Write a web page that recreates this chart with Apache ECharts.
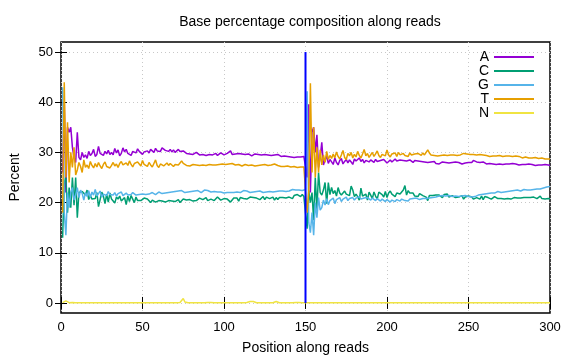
<!DOCTYPE html>
<html>
<head>
<meta charset="utf-8">
<script src="https://cdn.jsdelivr.net/npm/echarts@6/dist/echarts.min.js"></script>
<style>html,body{margin:0;padding:0;background:#fff;}#c{width:576px;height:360px;}</style>
</head>
<body>
<div id="c"></div>
<script>
const title = "Base percentage composition along reads";
const xName = "Position along reads";
const yName = "Percent";
const seriesNames = ["A", "C", "G", "T", "N"];
const xTicks = [0, 50, 100, 150, 200, 250, 300];
const yTicks = [0, 10, 20, 30, 40, 50];
const readBoundary = 150;

const A_read1 = [
26,40,22,35,34,35,31,29,28,34,29,28.5,30,29,29.5,
28.8,30.2,29.4,29.8,30.6,29.2,29.6,31.2,29.8,30.0,29.4,30.2,29.7,30.4,29.6,
30.0,29.5,30.8,29.9,30.5,29.3,29.8,30.9,30.1,30.6,29.8,30.0,29.4,30.2,30.5,
29.9,30.7,30.2,30.4,29.6,30.1,29.8,30.3,29.9,30.6,30.4,30.0,30.8,30.3,30.5,
30.2,30.9,31.0,30.4,30.7,30.2,30.6,30.1,30.5,30.0,30.3,30.6,30.2,29.9,30.3,
30.0,29.8,30.1,29.7,29.9,29.6,29.8,30.0,29.7,29.5,29.8,29.6,29.9,29.4,29.7,
29.6,29.8,29.5,29.7,29.8,29.4,29.6,29.9,29.7,29.5,29.6,29.8,29.7,30.3,29.6,
29.5,29.7,29.6,29.8,29.5,29.7,29.4,29.6,29.5,29.7,29.6,29.3,29.5,29.7,29.4,
29.6,29.8,29.5,29.4,29.6,29.3,29.5,29.7,29.4,29.2,29.5,29.3,29.6,29.4,29.2,
29.4,29.3,29.5,29.2,29.4,29.1,29.3,29.0,29.2,29.1,28.9,29.1,29.0,29.2,29.0];
const A_read2 = [
25,39.6,22,34,35,30,33.5,27,29,32,27.5,28.5,29.2,27.8,28.6,
28.1,27.6,28.9,28.0,27.5,28.4,28.8,27.7,28.2,28.6,27.9,28.5,28.1,27.6,28.7,
28.3,28.0,28.9,28.2,28.6,27.9,28.4,28.7,28.1,28.5,28.3,28.0,28.6,28.2,27.9,
28.4,28.1,28.6,28.3,27.9,28.2,28.5,28.1,28.4,28.7,28.3,28.0,28.5,28.2,28.4,
28.6,28.3,28.1,28.5,28.2,28.0,28.4,28.1,28.3,28.0,28.2,27.9,28.1,28.3,28.0,
27.8,28.1,27.9,28.2,27.8,28.0,27.7,27.9,28.1,27.8,28.0,27.7,27.9,27.8,28.0,
27.9,28.1,27.8,28.0,27.9,27.7,28.0,27.9,28.1,28.0,27.8,28.0,28.4,28.7,28.1,
27.9,28.0,27.8,28.1,27.9,27.7,27.9,27.8,28.0,27.7,27.9,27.6,27.8,27.7,27.9,
27.6,27.8,27.7,27.5,27.7,27.6,27.8,27.5,27.7,27.6,27.5,27.7,27.6,27.4,27.6,
27.5,27.7,27.4,27.6,27.5,27.4,27.6,27.5,27.3,27.5,27.4,27.6,27.4,27.5,27.4];

const C_read1 = [
13,24,25,18,23,19,25,19.5,25,17,22,22,22.2,22,21.5,
22.5,20.6,21.4,20.7,21.0,20.8,22.0,19.2,20.6,22.1,21.3,19.8,21.7,20.1,21.9,
20.7,21.0,19.9,21.1,20.7,21.3,20.3,20.2,21.0,19.6,21.3,20.2,21.4,20.7,20.0,
21.1,20.4,20.5,20.4,20.3,20.9,20.7,20.7,20.4,20.0,20.5,20.4,20.1,20.4,20.4,
20.1,20.3,20.6,20.1,20.2,20.4,20.3,20.3,20.4,20.2,20.5,20.6,20.0,20.3,20.7,
20.4,20.5,20.3,20.6,20.4,20.3,20.5,20.4,20.6,20.9,20.6,20.6,20.3,21.0,20.4,
20.5,20.7,20.7,20.4,20.7,21.1,20.9,20.5,20.6,20.8,20.7,20.7,20.8,20.1,20.5,
20.9,20.6,20.9,20.3,21.0,20.8,20.8,20.7,20.7,20.7,21.1,21.0,21.0,20.7,20.9,
20.9,20.6,20.8,21.2,20.6,21.1,20.8,20.8,20.7,21.1,20.5,21.0,20.6,21.0,21.1,
21.0,21.1,20.9,21.0,21.1,21.4,20.8,21.4,21.2,21.6,21.4,21.2,21.6,21.2,21.4];
const C_read2 = [
14.8,22.4,20,22,16.5,25,18.5,26,22,21.5,22.5,24,19.8,24.0,21.6,
23.0,21.8,22.4,21.3,23.0,21.9,21.5,21.2,22.3,21.7,21.9,21.4,23.3,22.5,21.2,
21.7,21.2,20.5,22.9,21.3,21.6,21.7,20.5,22.1,21.5,20.8,22.1,21.3,20.7,22.1,
22.3,21.6,21.1,22.2,21.0,21.9,22.3,21.7,21.9,21.2,21.9,21.6,21.7,21.8,22.5,
23.4,21.5,22.4,21.9,21.8,21.9,21.3,21.6,21.2,21.8,21.5,21.4,21.4,21.1,20.4,
21.4,21.2,21.4,21.1,21.5,21.7,21.5,21.5,21.0,21.6,21.4,21.7,21.1,21.4,21.4,
21.2,21.0,21.3,21.1,21.2,21.4,20.7,21.1,20.9,21.3,21.2,21.1,20.7,20.4,21.0,
21.2,20.7,21.3,20.6,21.2,21.0,21.0,21.0,20.7,20.9,21.2,21.1,20.8,20.8,20.8,
21.0,20.7,20.7,20.8,20.6,20.7,20.8,21.0,20.7,20.9,20.9,20.9,21.0,21.0,20.9,
21.0,20.8,21.0,20.8,21.1,21.1,20.8,20.9,21.3,20.8,20.9,20.7,20.9,20.8,20.7];

const G_read1 = [
43,18,13.5,22,19,22,23,20.5,21.5,23,21,22.5,21.8,20.5,22,
21.2,22.4,21.0,22.1,21.5,22.6,21.3,21.8,22.3,21.1,21.7,22.0,21.4,22.2,21.6,
21.9,21.5,22.0,21.3,21.8,21.6,22.1,21.4,21.7,21.9,21.5,21.8,21.6,22.0,21.7,
21.5,21.8,21.6,21.9,21.7,21.4,21.6,21.8,21.7,21.9,22.0,21.8,21.6,21.9,22.1,
22.0,21.8,22.1,21.9,22.2,22.0,22.3,22.1,21.9,22.2,22.0,22.3,22.1,22.4,22.2,
22.0,22.3,22.1,22.4,22.2,22.5,22.3,22.1,22.4,22.2,22.0,22.3,22.5,22.2,22.4,
22.3,22.1,22.3,22.2,22.0,22.1,21.9,22.1,22.0,21.9,22.1,22.0,21.8,22.0,22.1,
22.0,22.2,22.1,22.3,22.0,22.2,22.4,22.1,22.3,22.2,22.0,22.2,22.1,22.3,22.2,
22.1,22.3,22.2,22.0,22.2,22.1,22.3,22.2,22.4,22.1,22.3,22.2,22.4,22.3,22.5,
22.3,22.4,22.2,22.5,22.3,22.4,22.6,22.4,22.5,22.3,22.5,22.6,22.4,22.5,22.6];
const G_read2 = [
42.2,16,14,18,13.5,20,17,21,18.5,19,20.5,19.5,20.8,19.6,20.4,
20.1,20.9,19.8,20.6,20.3,21.0,20.2,20.7,20.5,21.1,20.4,20.8,20.6,21.0,20.5,
20.9,20.6,21.2,20.7,20.4,20.9,20.6,21.0,20.8,20.5,20.9,20.7,20.4,20.8,20.6,
20.3,20.7,20.5,20.2,20.6,20.4,20.1,20.5,20.3,20.2,20.6,20.4,20.3,20.7,20.5,
20.4,20.6,20.3,20.7,20.5,20.8,20.6,20.9,20.7,20.6,20.9,20.8,21.0,20.8,21.1,
20.9,21.2,21.0,21.3,21.1,21.0,21.3,21.2,21.4,21.1,21.3,21.2,21.4,21.3,21.2,
21.4,21.3,21.5,21.2,21.4,21.3,21.5,21.4,21.3,21.2,21.4,21.1,21.3,21.2,21.4,
21.5,21.7,21.6,21.8,21.7,21.9,21.8,22.0,21.9,22.1,21.9,22.0,22.2,22.1,22.0,
22.2,22.1,22.3,22.2,22.4,22.3,22.2,22.4,22.3,22.5,22.4,22.3,22.5,22.6,22.4,
22.5,22.6,22.5,22.7,22.6,22.5,22.7,22.8,22.7,22.8,22.9,23.0,23.1,23.0,23.2];

const T_read1 = [
18,44,25,36,24,30,27,31,25.5,26.5,28,27.2,26,28.5,27,
27.5,26.8,28.2,27.4,26.9,27.8,27.1,28.0,27.3,26.8,27.6,28.1,27.2,27.5,26.9,
27.4,28.0,27.3,27.7,27.0,27.8,28.2,27.5,27.2,27.9,27.4,28.3,27.6,27.1,27.8,
27.5,28.1,27.7,27.3,28.4,27.6,27.9,27.2,28.0,27.5,27.1,27.8,28.5,27.4,27.0,
27.7,28.0,27.3,27.6,27.9,27.4,27.8,27.5,27.2,27.6,27.9,27.5,27.7,28.3,27.8,
27.6,27.4,27.5,27.3,27.5,27.6,27.4,27.5,27.3,27.4,27.6,27.5,27.3,27.4,27.5,
27.6,27.4,27.5,27.7,27.5,27.4,27.6,27.5,27.7,27.8,27.6,27.5,27.7,27.6,27.8,
27.6,27.5,27.4,27.6,27.5,27.3,27.4,27.6,27.5,27.4,27.3,27.5,27.4,27.3,27.5,
27.4,27.3,27.5,27.4,27.6,27.5,27.4,27.3,27.5,27.6,27.7,27.5,27.4,27.3,27.2,
27.3,27.2,27.4,27.3,27.2,27.1,27.3,27.2,27.1,27.0,27.2,27.1,27.0,27.1,27.0];
const T_read2 = [
18,22,43.8,26,35,25,31,26,30.5,27.5,29.5,28,30.2,28.6,29.4,
28.8,29.7,28.9,30.1,29.2,28.7,29.5,30.4,29.0,28.6,29.8,29.3,30.0,28.9,29.6,
29.1,30.2,29.4,28.9,29.7,30.6,29.3,29.8,29.0,29.5,30.0,29.2,29.7,30.3,29.4,
29.0,29.6,29.8,29.3,30.5,29.5,29.1,29.7,29.4,29.9,29.2,30.0,29.5,29.3,29.8,
29.4,29.6,29.2,29.9,29.5,29.3,29.7,29.4,29.8,29.6,29.4,29.9,29.5,29.8,30.5,
29.9,29.5,29.7,29.4,29.6,29.3,29.5,29.4,29.6,29.5,29.3,29.4,29.6,29.5,29.4,
29.5,29.6,29.4,29.7,29.5,29.6,29.8,29.6,29.7,29.5,29.6,29.8,29.6,29.7,29.5,
29.4,29.6,29.3,29.5,29.2,29.4,29.3,29.2,29.4,29.3,29.1,29.3,29.2,29.4,29.3,
29.2,29.4,29.3,29.5,29.3,29.4,29.2,29.1,29.3,29.0,29.2,29.1,28.9,29.0,29.1,
29.0,28.9,29.1,28.9,28.8,29.0,28.9,28.8,28.7,28.9,28.8,28.7,28.6,28.7,28.7];

const N_read1 = [
0.05,0.1,0.4,0.1,0.05,0.05,0.1,0.25,0.05,0.05,0.05,0.05,0.05,0.05,0.05,
0.05,0.05,0.05,0.05,0.05,0.05,0.05,0.05,0.05,0.05,0.05,0.05,0.05,0.05,0.05,
0.05,0.05,0.05,0.05,0.05,0.05,0.05,0.05,0.05,0.05,0.05,0.05,0.05,0.05,0.05,
0.05,0.05,0.05,0.05,0.05,0.05,0.05,0.05,0.05,0.05,0.05,0.05,0.05,0.05,0.05,
0.05,0.05,0.05,0.05,0.05,0.05,0.05,0.05,0.05,0.05,0.05,0.05,0.1,0.2,0.9,
0.2,0.05,0.05,0.05,0.05,0.05,0.05,0.05,0.05,0.05,0.05,0.05,0.05,0.05,0.1,
0.25,0.1,0.05,0.05,0.05,0.05,0.05,0.05,0.05,0.05,0.05,0.05,0.05,0.05,0.05,
0.05,0.05,0.05,0.05,0.05,0.05,0.05,0.05,0.1,0.2,0.3,0.35,0.3,0.15,0.05,
0.05,0.05,0.05,0.05,0.05,0.05,0.05,0.05,0.05,0.05,0.1,0.3,0.1,0.05,0.05,
0.05,0.05,0.05,0.05,0.05,0.05,0.05,0.05,0.1,0.2,0.1,0.05,0.05,0.05,0.05];
const N_read2 = [
0.05,0.05,0.05,0.05,0.05,0.05,0.05,0.05,0.05,0.05,0.05,0.05,0.05,0.05,0.05,
0.05,0.05,0.05,0.05,0.05,0.05,0.05,0.05,0.05,0.05,0.05,0.05,0.05,0.05,0.05,
0.05,0.05,0.05,0.05,0.05,0.05,0.05,0.05,0.05,0.05,0.05,0.05,0.05,0.05,0.05,
0.05,0.05,0.05,0.05,0.05,0.05,0.05,0.05,0.05,0.05,0.05,0.05,0.05,0.05,0.05,
0.05,0.05,0.05,0.05,0.05,0.05,0.05,0.05,0.05,0.05,0.05,0.05,0.05,0.05,0.05,
0.05,0.05,0.05,0.05,0.05,0.05,0.05,0.05,0.05,0.05,0.05,0.05,0.05,0.05,0.05,
0.05,0.05,0.05,0.05,0.05,0.05,0.05,0.05,0.05,0.05,0.05,0.05,0.05,0.05,0.05,
0.05,0.05,0.05,0.05,0.05,0.05,0.05,0.05,0.05,0.05,0.05,0.05,0.05,0.05,0.05,
0.05,0.05,0.05,0.05,0.05,0.05,0.05,0.05,0.05,0.05,0.05,0.05,0.05,0.05,0.05,
0.05,0.05,0.05,0.05,0.05,0.05,0.05,0.05,0.05,0.05,0.05,0.05,0.05,0.05,0.05];

const colors = ["#9400d3", "#009e73", "#56b4e9", "#e69f00", "#f0e442"];
const seriesValues = [
  A_read1.concat(A_read2),
  C_read1.concat(C_read2),
  G_read1.concat(G_read2),
  T_read1.concat(T_read2),
  N_read1.concat(N_read2)
];

const FONT = "Liberation Sans";
const chart = echarts.init(document.getElementById('c'), null, {renderer: 'canvas'});

const series = seriesNames.map((name, k) => ({
  name: name,
  type: 'line',
  xAxisIndex: 0, yAxisIndex: 0,
  data: seriesValues[k].map((v, i) => [i + 1, v]),
  showSymbol: false,
  symbol: 'none',
  animation: false,
  lineStyle: {color: colors[k], width: 1.5},
  itemStyle: {color: colors[k]},
  z: 2 + k
}));
series.push({
  name: 'boundary',
  type: 'line',
  data: [[readBoundary, 0], [readBoundary, 50]],
  symbol: 'none',
  animation: false,
  lineStyle: {color: '#0000ff', width: 2},
  z: 10
});

const option = {
  backgroundColor: '#ffffff',
  animation: false,
  title: {
    text: title,
    left: 305, top: 10, textAlign: 'center',
    textStyle: {fontFamily: FONT, fontSize: 14, fontWeight: 'normal', color: '#000'}
  },
  legend: {
    data: seriesNames,
    orient: 'vertical',
    right: 37, top: 45,
    align: 'right',
    icon: 'rect',
    itemWidth: 40, itemHeight: 2,
    itemGap: 0,
    textStyle: {fontFamily: FONT, fontSize: 14, color: '#000', lineHeight: 14}
  },
  grid: {left: 60, right: 26, top: 42, bottom: 46, show: true, borderColor: '#000', borderWidth: 1.5, backgroundColor: 'transparent'},
  xAxis: [{
    type: 'value', min: 0, max: 300, interval: 50,
    name: xName, nameLocation: 'middle', nameGap: 28,
    nameTextStyle: {fontFamily: FONT, fontSize: 14, color: '#000'},
    axisLine: {show: false},
    axisTick: {show: true, inside: true, length: 6, lineStyle: {color: '#000', width: 1}},
    axisLabel: {fontFamily: FONT, fontSize: 13, color: '#000', margin: 8},
    splitLine: {show: true, lineStyle: {color: '#c8c8c8', type: [1, 3], width: 1}}
  }, {
    type: 'value', min: 0, max: 300, interval: 50, position: 'top',
    axisLine: {show: false},
    axisTick: {show: true, inside: true, length: 6, lineStyle: {color: '#000', width: 1}},
    axisLabel: {show: false}, splitLine: {show: false}
  }],
  yAxis: [{
    type: 'value', min: -2, max: 52,
    name: yName, nameLocation: 'middle', nameGap: 39, nameRotate: 90,
    nameTextStyle: {fontFamily: FONT, fontSize: 14, color: '#000'},
    axisLine: {show: false},
    axisTick: {show: true, inside: true, length: 6, customValues: yTicks, lineStyle: {color: '#000', width: 1}},
    axisLabel: {fontFamily: FONT, fontSize: 13, color: '#000', margin: 8, customValues: yTicks},
    splitLine: {show: true, lineStyle: {color: '#c8c8c8', type: [1, 3], width: 1}}
  }, {
    type: 'value', min: -2, max: 52, position: 'right',
    axisLine: {show: false},
    axisTick: {show: true, inside: true, length: 6, customValues: yTicks, lineStyle: {color: '#000', width: 1}},
    axisLabel: {show: false}, splitLine: {show: false}
  }],
  series: series
};
chart.setOption(option);
</script>
</body>
</html>
